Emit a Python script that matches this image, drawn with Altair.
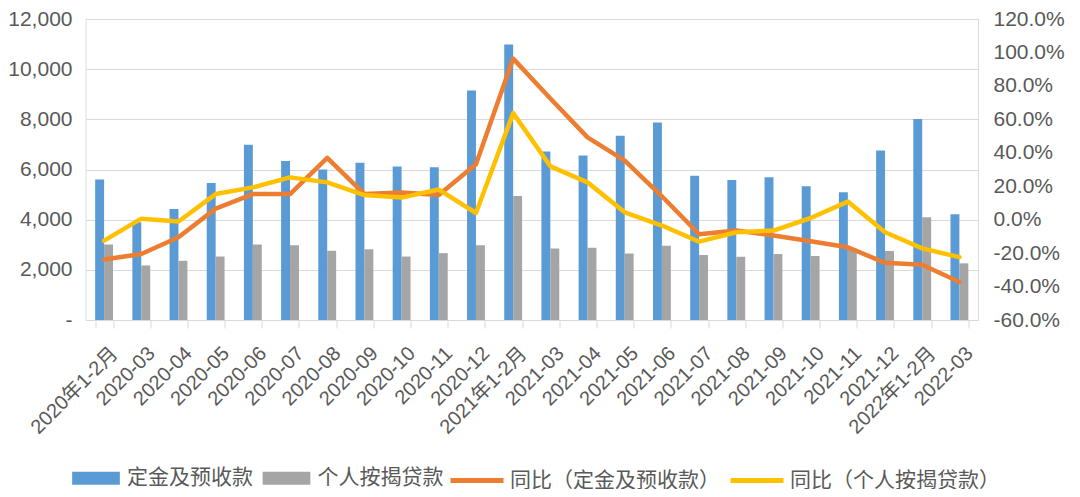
import altair as alt
import pandas as pd

categories = [
    "2020年1-2月", "2020-03", "2020-04", "2020-05", "2020-06", "2020-07",
    "2020-08", "2020-09", "2020-10", "2020-11", "2020-12",
    "2021年1-2月", "2021-03", "2021-04", "2021-05", "2021-06", "2021-07",
    "2021-08", "2021-09", "2021-10", "2021-11", "2021-12",
    "2022年1-2月", "2022-03",
]
deposit_values = [5600, 3900, 4430, 5460, 6990, 6340, 6000, 6270, 6120, 6090, 9150, 10980,
                  6720, 6560, 7350, 7870, 5750, 5580, 5690, 5330, 5090, 6760, 8010, 4220]
mortgage_values = [3010, 2175, 2360, 2530, 3010, 2980, 2760, 2820, 2530, 2665, 2980, 4940,
                   2850, 2880, 2650, 2960, 2590, 2520, 2630, 2550, 2850, 2750, 4100, 2260]
deposit_yoy = [-0.238, -0.205, -0.105, 0.066, 0.153, 0.153, 0.370, 0.153, 0.163, 0.147, 0.332, 0.963,
               0.725, 0.492, 0.353, 0.140, -0.087, -0.065, -0.095, -0.129, -0.165, -0.258, -0.270, -0.373]
mortgage_yoy = [-0.125, 0.006, -0.011, 0.153, 0.193, 0.253, 0.223, 0.147, 0.132, 0.180, 0.040, 0.637,
                0.319, 0.223, 0.044, -0.035, -0.131, -0.075, -0.065, 0.010, 0.108, -0.075, -0.172, -0.224]

bar_series = ["定金及预收款", "个人按揭贷款"]
line_series = ["同比（定金及预收款）", "同比（个人按揭贷款）"]
bar_colors = ["#5B9BD5", "#A5A5A5"]
line_colors = ["#ED7D31", "#FFC000"]
left_ticks = [0, 2000, 4000, 6000, 8000, 10000, 12000]
right_ticks = [-0.6, -0.4, -0.2, 0.0, 0.2, 0.4, 0.6, 0.8, 1.0, 1.2]

n = len(categories)
bar_df = pd.DataFrame({
    "cat": categories * 2,
    "series": [bar_series[0]] * n + [bar_series[1]] * n,
    "value": deposit_values + mortgage_values,
})
line_df = pd.DataFrame({
    "cat": categories * 2,
    "series": [line_series[0]] * n + [line_series[1]] * n,
    "yoy": deposit_yoy + mortgage_yoy,
})

FONT = "Liberation Sans, Noto Sans CJK SC, sans-serif"
TEXT = "#595959"
GRID = "#D9D9D9"

x_axis = alt.Axis(
    title=None, labelAngle=-45, labelAlign="right", labelBaseline="middle",
    labelFontSize=20, labelColor=TEXT, labelFont=FONT, labelOverlap=False,
    labelPadding=22, labelOffset=10, tickBand="extent", ticks=True, tickSize=8,
    tickColor=GRID, domainColor=GRID, grid=False,
)
x_scale = alt.Scale(type="band", paddingInner=0.52, paddingOuter=0.26)

bars = alt.Chart(bar_df).mark_bar().encode(
    x=alt.X("cat:N", sort=categories, scale=x_scale, axis=x_axis),
    xOffset=alt.XOffset("series:N", sort=bar_series,
                        scale=alt.Scale(domain=bar_series, paddingInner=0, paddingOuter=0)),
    y=alt.Y("value:Q", scale=alt.Scale(domain=[0, 12000], nice=False),
            axis=alt.Axis(title=None, values=left_ticks,
                          labelExpr="datum.value == 0 ? '-' : format(datum.value, ',')",
                          grid=True, gridColor=GRID, domain=False, ticks=False,
                          labelPadding=13.5, labelFontSize=21, labelColor=TEXT, labelFont=FONT)),
    color=alt.Color("series:N", sort=bar_series,
                    scale=alt.Scale(domain=bar_series, range=bar_colors),
                    legend=alt.Legend(title=None, orient="none", legendX=-16, legendY=432.5,
                                      direction="horizontal",
                                      symbolType="M-0.9,-0.245L0.9,-0.245L0.9,0.245L-0.9,0.245Z",
                                      symbolSize=2809, symbolStrokeWidth=0,
                                      labelOffset=4.5, columnPadding=6.5, labelLimit=400,
                                      labelFontSize=21, labelColor=TEXT, labelFont=FONT)),
)

line_base = alt.Chart(line_df).encode(
    x=alt.X("cat:N", sort=categories, scale=x_scale),
    y=alt.Y("yoy:Q", scale=alt.Scale(domain=[-0.6, 1.2], nice=False),
            axis=alt.Axis(title=None, orient="right", values=right_ticks,
                          labelExpr="replace(format(datum.value, '.1%'), '\u2212', '-')",
                          grid=False, domain=False, ticks=False,
                          labelPadding=15, labelFontSize=21, labelColor=TEXT, labelFont=FONT)),
    color=alt.Color("series:N", sort=line_series,
                    scale=alt.Scale(domain=line_series, range=line_colors),
                    legend=alt.Legend(title=None, orient="none", legendX=362.5, legendY=432.5,
                                      direction="horizontal",
                                      symbolType="M-1,0L1,0", symbolSize=2809,
                                      symbolStrokeWidth=5,
                                      labelOffset=4, columnPadding=0, labelLimit=400,
                                      labelFontSize=21, labelColor=TEXT, labelFont=FONT)),
)
line_a = line_base.transform_filter(alt.datum.series == line_series[0]).mark_line(
    strokeWidth=4.5, strokeJoin="round", strokeCap="round")
line_b = line_base.transform_filter(alt.datum.series == line_series[1]).mark_line(
    strokeWidth=4.5, strokeJoin="round", strokeCap="round")
lines = alt.layer(line_a, line_b)

chart = alt.layer(bars, lines).resolve_scale(
    y="independent", color="independent"
).properties(
    width=892.5, height=301,
    autosize=alt.AutoSizeParams(type="none"),
    padding={"left": 77.5, "top": 11, "right": 94, "bottom": 169},
).configure_view(stroke=None).configure(background="white")

chart.save("out.html", embed_options={"renderer": "svg", "actions": False})
